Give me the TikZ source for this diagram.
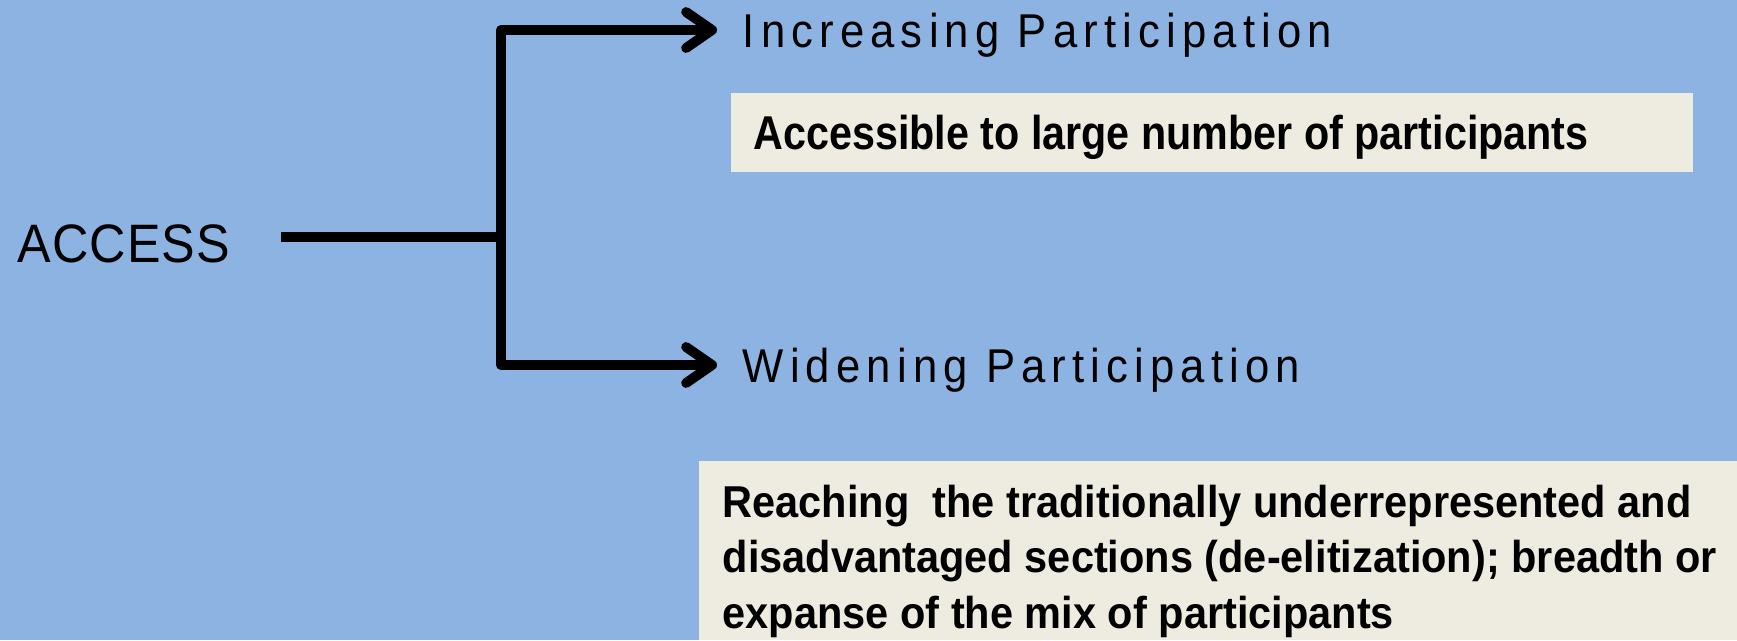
\documentclass[tikz,border=0pt]{standalone}
\usepackage{fontspec}
\setmainfont{Liberation Sans}
\newfontfamily\accessfont[FakeStretch=0.93,LetterSpace=2]{Liberation Sans}
\newfontfamily\spacedfont[FakeStretch=0.92,LetterSpace=13]{Liberation Sans}
\newfontfamily\narrowfont[FakeStretch=0.87]{Liberation Sans}
\newfontfamily\wideNarrowfont[FakeStretch=0.93]{Liberation Sans}
\usetikzlibrary{arrows.meta}
\definecolor{slideBlue}{HTML}{8DB3E2}
\definecolor{noteFill}{HTML}{EEECE1}
\begin{document}
\begin{tikzpicture}
[trunkLine/.style={line width=2.8pt,line join=round},%
  branchLine/.style={trunkLine,-{Straight Barb[length=2.6mm,width=3.6mm,round]}},%
  headDecorate/.style={inner xsep=0.25cm,inner ysep=0pt,anchor=west,text height=0.35cm,text depth=0pt,font=\spacedfont\fontsize{13.5}{16}\selectfont},%
  noteDecorate/.style={inner sep=0pt,anchor=north west,align=left}]
%% background and note panels
\useasboundingbox (0,0) rectangle (17.37,-6.40);
\fill[slideBlue] (0,0) rectangle (17.37,-6.40);
\fill[noteFill] (7.31,-0.93) rectangle (16.93,-1.72);
\fill[noteFill] (6.99,-4.61) rectangle (17.37,-6.40);
%% nodes
\node (access) at (0.17,-2.62) [anchor=base west,inner sep=0pt,font=\accessfont\fontsize{15.4}{18}\selectfont] {ACCESS};
\node (incr) at (7.17,-0.30) [headDecorate] {Increasing Participation};
\node (widen) at (7.17,-3.65) [headDecorate] {Widening Participation};
\node (large) at (7.53,-1.14) [noteDecorate,font=\narrowfont\bfseries\fontsize{13.5}{16}\selectfont] {Accessible to large number of participants};
\node (reach) at (7.22,-4.84) [noteDecorate,font=\wideNarrowfont\bfseries\fontsize{12.7}{15.8}\selectfont] {Reaching~ the traditionally underrepresented and\\
  disadvantaged sections (de-elitization); breadth or\\
  expanse of the mix of participants};
\coordinate (fork) at (5.01,-2.37);
\path (access.east |- fork) ++(0.50,0) coordinate (start);
%% connectors
\draw[trunkLine] (start) -- (fork);
\draw[branchLine] (fork) |- (incr.west);
\draw[branchLine] (fork) |- (widen.west);
\end{tikzpicture}
\end{document}
